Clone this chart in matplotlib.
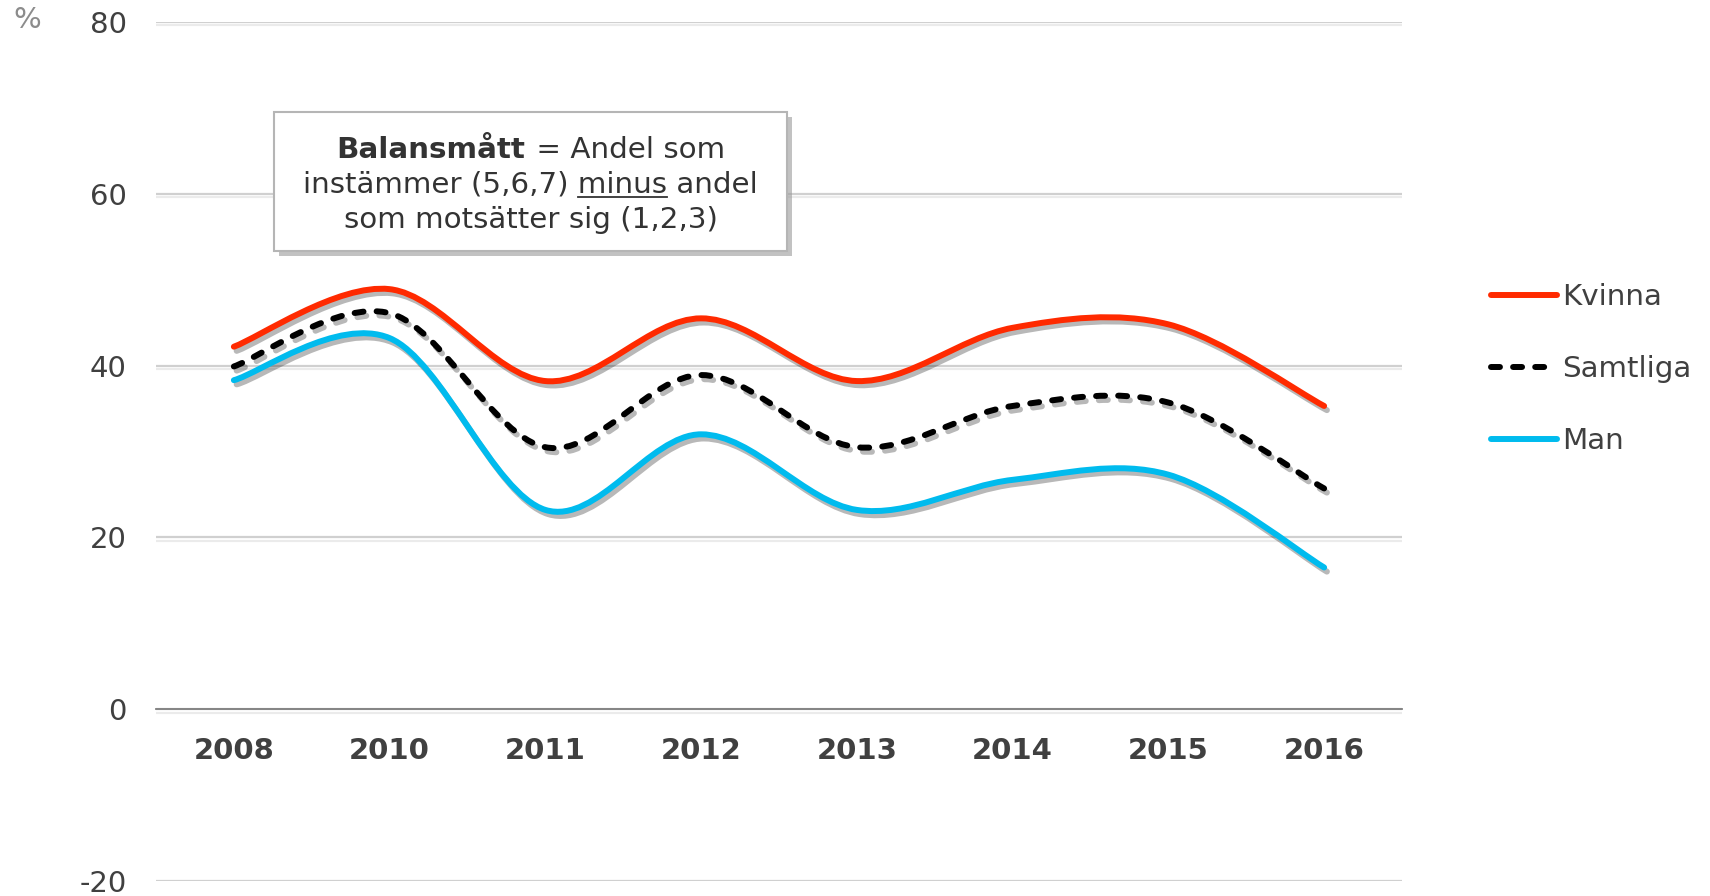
"""Balansmått per kön, 2008-2016, smoothed lines with a note box."""

from matplotlib import pyplot
from matplotlib import patheffects
from matplotlib.lines import Line2D
from matplotlib.path import Path
from matplotlib.patches import PathPatch, Rectangle
import numpy

years = ['2008', '2010', '2011', '2012', '2013', '2014', '2015', '2016']
kvinna = [42.2, 48.9, 38.2, 45.5, 38.2, 44.4, 44.8, 35.3]
samtliga = [39.9, 46.1, 30.5, 38.9, 30.5, 35.3, 35.7, 25.7]
man = [38.3, 43.2, 23.2, 32.0, 23.2, 26.7, 27.3, 16.5]
series_names = ['Kvinna', 'Samtliga', 'Man']
yticks = [-20, 0, 20, 40, 60, 80]


def smooth_path(x, y):
    """Bezier path through the points (Catmull-Rom, like Excel smoothing)."""
    pts = numpy.column_stack([x, y]).astype(float)
    ext = numpy.vstack([pts[0], pts, pts[-1]])
    verts = [pts[0]]
    codes = [Path.MOVETO]
    for i in range(len(pts) - 1):
        p0, p1, p2, p3 = ext[i:i + 4]
        verts += [p1 + (p2 - p0) / 6, p2 - (p3 - p1) / 6, p2]
        codes += [Path.CURVE4] * 3
    return Path(verts, codes)


pyplot.rc('font', family='DejaVu Sans')
pyplot.rc('axes', unicode_minus=False)
text_color = '#404040'
W, H = 1710, 896

fig = pyplot.figure(figsize=(W / 100, H / 100), dpi=100)
ax = fig.add_axes([156 / W, 15 / H, 1246 / W, 859 / H])
ax.set_xlim(-0.5, len(years) - 0.5)
ax.set_ylim(-20, 80)

# Gridlines with a soft shadow below.
ax.set_yticks(yticks)
ax.yaxis.grid(True, color='#d0d0d0', linewidth=1.6)
ax.set_axisbelow(True)
for gl in ax.get_ygridlines():
    gl.set_path_effects([
        patheffects.SimpleLineShadow(offset=(0, -2.5), shadow_color='#000000',
                                     alpha=0.08),
        patheffects.Normal()])

for side in ('top', 'right', 'left'):
    ax.spines[side].set_visible(False)
ax.spines['bottom'].set_position(('data', 0))
ax.spines['bottom'].set_color('#7f7f7f')
ax.spines['bottom'].set_linewidth(1.3)

ax.set_xticks(range(len(years)), years, fontweight='bold')
ax.tick_params(axis='x', length=0, pad=20, labelsize=21,
               labelcolor=text_color)
ax.tick_params(axis='y', length=0, pad=21, labelsize=21,
               labelcolor=text_color)

x = numpy.arange(len(years))
styles = [
    dict(edgecolor='#ff2a00', linestyle='-'),
    dict(edgecolor='#000000', linestyle=(0, (1.5, 2.2))),
    dict(edgecolor='#00bbee', linestyle='-'),
]
handles = []
for vals, style in zip([kvinna, samtliga, man], styles):
    patch = PathPatch(smooth_path(x, vals), fill=False, linewidth=4.3,
                      capstyle='round', joinstyle='round', **style)
    patch.set_path_effects([
        patheffects.SimpleLineShadow(offset=(2, -3), shadow_color='#000000',
                                     alpha=0.28),
        patheffects.Normal()])
    ax.add_patch(patch)
    handles.append(Line2D([], [], color=style['edgecolor'], linewidth=4.3,
                          linestyle=style['linestyle'],
                          solid_capstyle='round', dash_capstyle='round'))

fig.legend(handles, series_names, loc='center left',
           bbox_to_anchor=(1491 / W, 1 - 369 / H), frameon=False,
           fontsize=21.2, handlelength=2.25, handletextpad=0.17,
           labelspacing=1.5, borderpad=0, borderaxespad=0,
           labelcolor=text_color)

fig.text(27 / W, 1 - 20 / H, '%', ha='center', va='center', fontsize=21,
         color='#8c8c8c')

# Note box with drop shadow.
bx0, by0, bx1, by1 = 274, 112, 787, 251
fig.patches.append(Rectangle(((bx0 + 5) / W, 1 - (by1 + 5) / H),
                             (bx1 - bx0) / W, (by1 - by0) / H,
                             transform=fig.transFigure, facecolor='#9a9a9a',
                             edgecolor='none', alpha=0.6))
fig.patches.append(Rectangle((bx0 / W, 1 - by1 / H), (bx1 - bx0) / W,
                             (by1 - by0) / H, transform=fig.transFigure,
                             facecolor='white', edgecolor='#b5b5b5',
                             linewidth=1.5))

cx = (bx0 + bx1) / 2 / W
note_kw = dict(ha='center', va='baseline', fontsize=21.2, color='#333333')
renderer = fig.canvas.get_renderer()
# First line: bold word followed by regular text, centred as a whole.
t_bold = fig.text(0, 0, 'Balansmått', fontweight='bold', **note_kw)
t_rest = fig.text(0, 0, ' = Andel som', **note_kw)
w_bold = t_bold.get_window_extent(renderer).width
w_rest = t_rest.get_window_extent(renderer).width
gap = 2
left = cx * W - (w_bold + gap + w_rest) / 2
t_bold.set_position((left / W, 1 - 158 / H))
t_bold.set_ha('left')
t_rest.set_position(((left + w_bold + gap) / W, 1 - 158 / H))
t_rest.set_ha('left')

t2 = fig.text(cx, 1 - 193 / H, 'instämmer (5,6,7) minus andel', **note_kw)
fig.text(cx, 1 - 228 / H, 'som motsätter sig (1,2,3)', **note_kw)

# Underline the word "minus".
b2 = t2.get_window_extent(renderer)
tmp = fig.text(0, 0, 'instämmer (5,6,7) minus', **note_kw)
w_upto = tmp.get_window_extent(renderer).width
tmp.set_text('minus')
w_word = tmp.get_window_extent(renderer).width
tmp.remove()
ux1 = b2.x0 + w_upto
ux0 = ux1 - w_word
uy = H - 193 - 4
fig.add_artist(Line2D([ux0 / W, ux1 / W], [uy / H, uy / H],
                      transform=fig.transFigure, color='#333333',
                      linewidth=1.3))

fig.savefig('out.png', dpi=100)
